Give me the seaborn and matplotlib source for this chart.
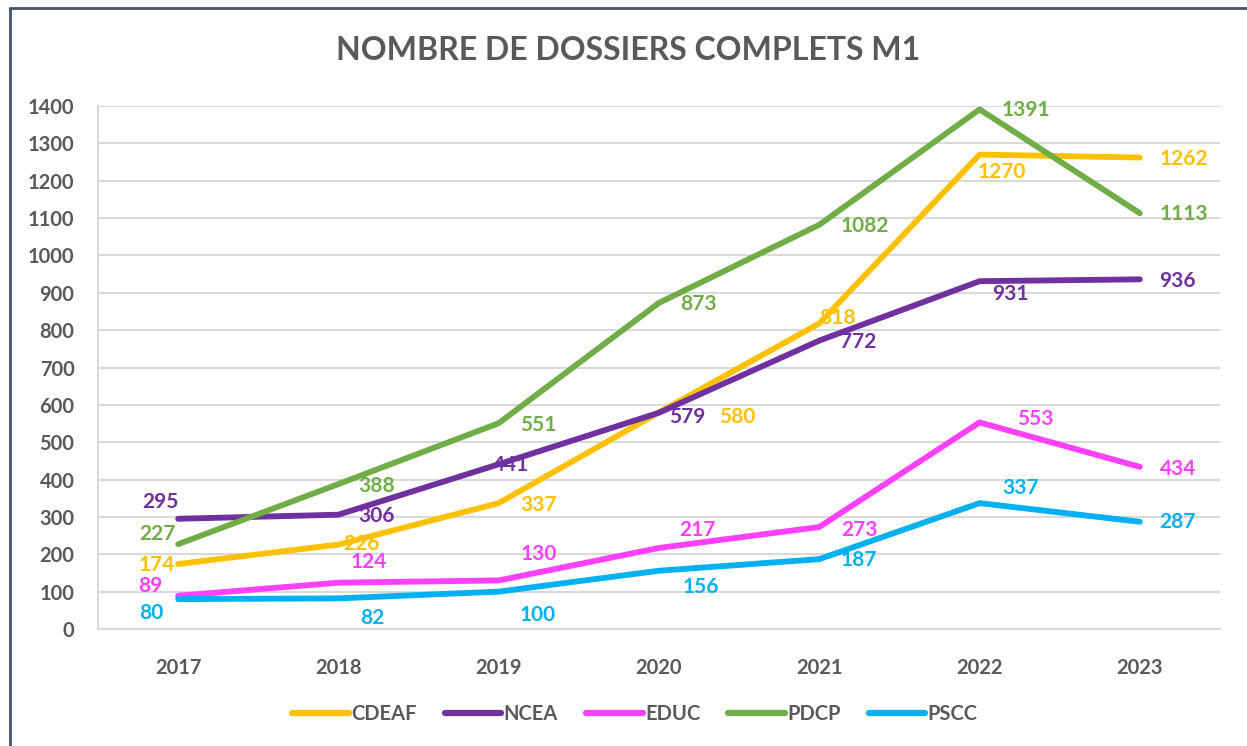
import pandas as pd
import seaborn as sns
import matplotlib.pyplot as plt
from matplotlib.lines import Line2D

years = ['2017', '2018', '2019', '2020', '2021', '2022', '2023']
cdeaf = [174, 226, 337, 580, 818, 1270, 1262]
ncea = [295, 306, 441, 579, 772, 931, 936]
educ = [89, 124, 130, 217, 273, 553, 434]
pdcp = [227, 388, 551, 873, 1082, 1391, 1113]
pscc = [80, 82, 100, 156, 187, 337, 287]

series = {'CDEAF': cdeaf, 'NCEA': ncea, 'EDUC': educ, 'PDCP': pdcp, 'PSCC': pscc}
colors = {'CDEAF': '#FFC000', 'NCEA': '#7030A0', 'EDUC': '#FF40FF',
          'PDCP': '#70AD47', 'PSCC': '#00B0F0'}

# label offsets in pixels (dx, dy up)
offsets = {
    'CDEAF': [(-21, -1), (23, 1), (40, -2), (78, -5), (18, 5), (22, -17), (44, -1)],
    'NCEA': [(-18, 17), (38, -1), (12, -1), (28, -4), (39, -1), (31, -13), (38, -2)],
    'EDUC': [(-28, 10), (30, 21), (40, 26), (38, 18), (40, -3), (56, 3), (38, -2)],
    'PDCP': [(-21, 10), (38, -2), (40, -2), (39, -1), (46, -1), (46, -1), (44, -1)],
    'PSCC': [(-27, -14), (34, -20), (39, -23), (42, -16), (40, -1), (41, 15), (38, 0)],
}

rows = []
for name, vals in series.items():
    for y, v in zip(years, vals):
        rows.append({'year': y, 'value': v, 'serie': name})
df = pd.DataFrame(rows)

sns.set_style('white')
plt.rcParams['font.family'] = ['Lato', 'DejaVu Sans']
gray = '#595959'

fig = plt.figure(figsize=(12.47, 7.46), dpi=100)
ax = fig.add_axes([98 / 1247, 1 - 629 / 746, 1122 / 1247, 523 / 746])

sns.lineplot(data=df, x='year', y='value', hue='serie', palette=colors,
             linewidth=4.2, ax=ax, legend=False, sort=False)
for line in ax.lines:
    line.set_solid_capstyle('round')
    line.set_solid_joinstyle('round')

for name, vals in series.items():
    for i, v in enumerate(vals):
        dx, dy = offsets[name][i]
        ax.annotate(str(v), (i, v), xytext=(dx, dy), textcoords='offset pixels',
                    ha='center', va='center', fontsize=15, fontweight='bold',
                    color=colors[name])

ax.set_xlim(-0.5, 6.5)
ax.set_ylim(0, 1400)
ax.set_yticks(range(0, 1401, 100))
ax.yaxis.grid(True, color='#d9d9d9', linewidth=1.5)
ax.set_axisbelow(True)
ax.set_xlabel('')
ax.set_ylabel('')
for s in ['top', 'right']:
    ax.spines[s].set_visible(False)
for s in ['left', 'bottom']:
    ax.spines[s].set_color('#d9d9d9')
    ax.spines[s].set_linewidth(1.5)
ax.tick_params(axis='both', length=0, labelsize=14.5, labelcolor=gray)
ax.tick_params(axis='x', pad=21)
ax.tick_params(axis='y', pad=17)
for lab in ax.get_xticklabels() + ax.get_yticklabels():
    lab.set_fontweight('bold')

fig.text(628 / 1247, 1 - 50 / 746, 'NOMBRE DE DOSSIERS COMPLETS M1', ha='center',
         va='center', fontsize=23, fontweight='bold', color=gray)

handles = [Line2D([0], [0], color=colors[n], lw=4.5, solid_capstyle='round')
           for n in series]
leg = fig.legend(handles, list(series.keys()), loc='center',
                 bbox_to_anchor=(635 / 1247, 1 - 714 / 746), ncol=5, frameon=False,
                 handlelength=2.8, handletextpad=0.12, columnspacing=1.4,
                 prop={'weight': 'bold', 'size': 14.5})
for t in leg.get_texts():
    t.set_color(gray)

# outer frame (only top and left visible in the source screenshot)
fig.add_artist(Line2D([10 / 1247, 10 / 1247], [0, 1 - 8 / 746], color='#44546A',
                      lw=2, transform=fig.transFigure))
fig.add_artist(Line2D([10 / 1247, 1], [1 - 8 / 746, 1 - 8 / 746], color='#44546A',
                      lw=2, transform=fig.transFigure))

fig.savefig('out.png', dpi=100)
